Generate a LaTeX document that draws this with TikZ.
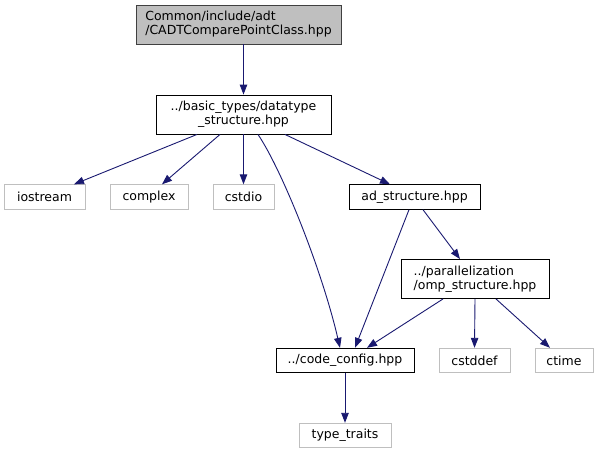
\documentclass[tikz,border=0pt]{standalone}
\usepackage{fontspec}
\setmainfont{DejaVu Sans}
\usetikzlibrary{arrows.meta}
\definecolor{edgeblue}{HTML}{191970}
\definecolor{lightbd}{HTML}{BFBFBF}
\definecolor{topfill}{HTML}{BFBFBF}
\definecolor{topbd}{HTML}{404040}
\tikzset{
  box/.style={draw=black, line width=0.9pt, inner sep=0pt, minimum height=24.5pt,
    font=\fontsize{12.5}{14}\selectfont},
  sysbox/.style={box, draw=lightbd},
  topbox/.style={box, fill=topfill, draw=topbd, minimum height=39pt},
  twoline/.style={minimum height=39pt},
  dep/.style={draw=edgeblue, line width=0.9pt,
    -{Triangle[length=10pt,width=7.5pt]}, shorten >=0pt}
}
\begin{document}
\begin{tikzpicture}[x=1pt,y=-1pt]
\useasboundingbox (0,0) rectangle (599,455);
\node[topbox, minimum width=205pt, align=left] (top) at (238.5,24.5) {Common/include/adt\\/CADTComparePointClass.hpp};
\node[box, twoline, minimum width=175pt, align=center] (dt) at (243.5,114.5) {../basic\_types/datatype\\\_structure.hpp};
\node[sysbox, minimum width=81pt] (ios) at (44.5,197) {iostream};
\node[sysbox, minimum width=78pt] (cpx) at (149,197) {complex};
\node[sysbox, minimum width=61pt] (cst) at (243.5,197) {cstdio};
\node[box, minimum width=131pt] (ad) at (414.5,197) {ad\_structure.hpp};
\node[box, twoline, minimum width=148pt, align=left] (omp) at (475,279) {../parallelization\\/omp\_structure.hpp};
\node[box, minimum width=138pt] (cc) at (345,360.5) {../code\_config.hpp};
\node[sysbox, minimum width=71pt] (cdf) at (474.5,360.5) {cstddef};
\node[sysbox, minimum width=58pt] (ctm) at (564,360.5) {ctime};
\node[sysbox, minimum width=92pt] (tt) at (345,435.5) {type\_traits};

\draw[dep] ([xshift=5pt]top.south) -- (dt.north);
\draw[dep] ([xshift=-46.5pt]dt.south) -- ([xshift=29.5pt]ios.north);
\draw[dep] ([xshift=-23.5pt]dt.south) -- ([xshift=13pt]cpx.north);
\draw[dep] (dt.south) -- (cst.north);
\draw[dep] ([xshift=14.5pt]dt.south) .. controls (282,170) and (322,270) .. ([xshift=-5pt]cc.north);
\draw[dep] ([xshift=41.5pt]dt.south) -- ([xshift=-24.5pt]ad.north);
\draw[dep] ([xshift=-5.5pt]ad.south) -- ([xshift=10pt]cc.north);
\draw[dep] ([xshift=8.5pt]ad.south) -- ([xshift=-15pt]omp.north);
\draw[dep] ([xshift=-32pt]omp.south) -- ([xshift=22pt]cc.north);
\draw[dep] (omp.south) -- (cdf.north);
\draw[dep] ([xshift=21pt]omp.south) -- ([xshift=-14pt]ctm.north);
\draw[dep] (cc.south) -- (tt.north);
\end{tikzpicture}
\end{document}
